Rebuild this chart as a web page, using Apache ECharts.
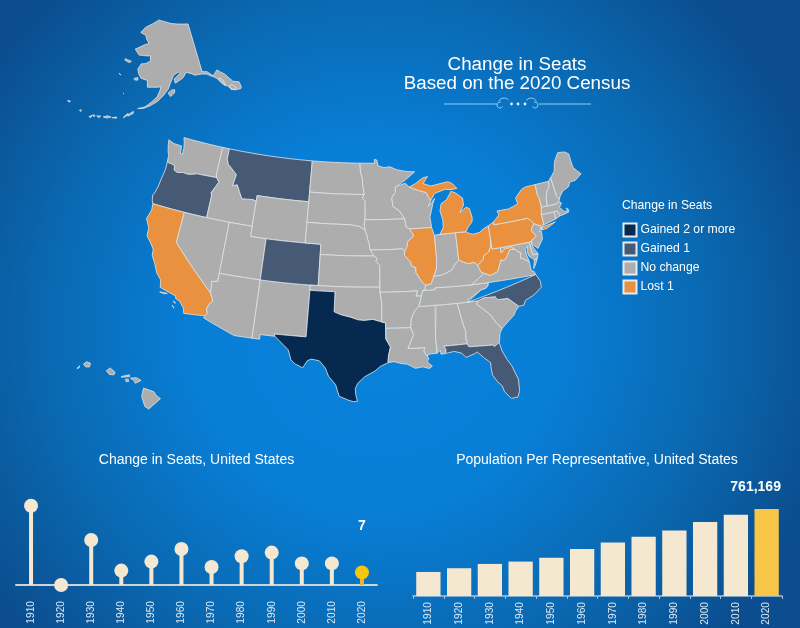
<!DOCTYPE html>
<html><head><meta charset="utf-8">
<style>html,body{margin:0;padding:0;background:#0a6ab2}#c{width:800px;height:628px}</style>
<script src="https://cdn.jsdelivr.net/npm/echarts@6/dist/echarts.min.js"></script>
</head><body><div id="c"></div>
<script>
// ---------- data ----------
const decades = ['1910','1920','1930','1940','1950','1960','1970','1980','1990','2000','2010','2020'];
const seatChanges = [44,0,25,8,13,20,10,16,18,12,12,7];
const popPerRep = [210328,243000,280675,301164,334587,410481,469088,519235,572466,646952,710767,761169];
const gainedTwo = ['Texas'];
const gainedOne = ['Oregon','Montana','Colorado','North Carolina','Florida'];
const lostOne = ['California','Illinois','Michigan','Ohio','Pennsylvania','New York','West Virginia'];
const legendNames = ['Gained 2 or more','Gained 1','No change','Lost 1'];
const legendColors = ['#06294f','#475a75','#adadad','#e9913f'];

// ---------- state outlines (lon lat), shared borders are named ----------
const col="-124 46.25,-123.4 46.2,-122.9 46.1,-122.8 45.7,-122.3 45.55,-121.5 45.7,-121 45.65,-120.5 45.7,-119.6 45.92,-119 45.93,-116.92 45.995";
const snake="-116.92 45.995,-116.47 45.6,-116.85 45,-117.2 44.4,-117.03 44.25,-117.03 42";
const idmt="-111.05 44.47,-111.5 44.55,-112.3 44.5,-113 44.45,-113.5 45.1,-113.95 45.7,-114.55 45.55,-114.35 46.65,-115.3 47.25,-115.75 47.5,-116.05 48,-116.05 49";
const redN="-96.56 45.94,-96.8 46.9,-96.85 47.5,-97.1 48,-97.23 49";
const mnsd="-96.45 43.5,-96.45 45.3,-96.85 45.6,-96.56 45.94";
const sdia="-96.45 42.49,-96.55 43,-96.45 43.5";
const sdne="-104.05 43,-98.5 43,-97.2 42.85,-96.45 42.49";
const monei="-96.45 42.49,-96.2 42,-96.1 41.6,-95.9 41.2,-95.85 40.7,-95.77 40.58";
const red="-100 34.56,-99.2 34.3,-98.1 34.1,-97.2 33.85,-96.5 33.8,-95.5 33.9,-94.48 33.64";
const sab="-94.04 33.02,-94.04 32,-93.55 31.2,-93.8 30.3,-93.85 29.7";
const mnwi="-92.05 46.7,-92.3 46.65,-92.3 46.1,-92.85 45.6,-92.75 45,-92.75 44.75,-91.9 44.3,-91.22 43.5";
const iawi="-91.22 43.5,-91.1 42.7,-90.65 42.5";
const iail="-90.65 42.5,-90.15 41.8,-91 41.3,-91.1 40.8,-91.42 40.38";
const moil="-91.42 40.38,-91.5 40,-90.75 39.3,-90.7 38.95,-90.15 38.75,-90.2 38.3,-89.5 37.3,-89.15 37";
const msar="-90.1 35,-90.6 34.6,-91.05 33.9,-91.17 33";
const wimi="-90.4 46.55,-89.1 46.15,-88.1 45.9,-87.8 45.35,-87.6 45.1";
const oh1="-80.52 40.64,-80.65 40,-81 39.5,-81.7 39.2,-81.75 38.95,-82.2 38.6,-82.6 38.42";
const oh2="-82.6 38.42,-83 38.72,-83.7 38.65,-84.25 38.85,-84.81 39.1";
const oh3="-84.81 39.1,-85.4 38.7,-85.8 38.25,-86.5 38,-87.1 37.85,-88.05 37.8";
const nctn="-81.68 36.59,-81.7 36.35,-82 36.1,-82.6 36,-83.1 35.75,-84.3 35.2,-84.32 34.99";
const ncsc="-83.11 35,-82.4 35.2,-81.05 35.15,-81.05 35.05,-80.8 34.82,-79.67 34.8,-78.55 33.86";
const gasc="-83.11 35,-83.35 34.7,-82.75 34.2,-81.95 33.5,-81.4 32.6,-80.87 32.03";
const alga="-85.6 35,-85.18 32.87,-85 32.3,-85.05 31.55,-85 31";
const almi="-88.2 35,-88.1 34.9,-88.45 31.9,-88.4 30.37";
const alfl="-85 31,-87.6 31,-87.4 30.65,-87.5 30.28";
const gafl="-85 31,-84.86 30.7,-82.2 30.57,-82.05 30.4,-81.45 30.72";
const dela="-74.7 41.36,-75.13 40.98,-75.2 40.68,-74.75 40.2,-75.45 39.82";
const pot="-79.48 39.2,-78.8 39.6,-78.45 39.55,-78.2 39.65,-77.72 39.32";
const potS="-77.72 39.32,-77.5 39.1,-77.05 38.85,-77.3 38.4,-77 38.3,-76.3 37.9";
const vawv="-77.72 39.32,-78.35 39.4,-78.87 38.77,-79.3 38.42,-79.65 38.58,-80.3 37.5,-81.25 37.25,-81.97 37.54";
const vtnh="-71.5 45.01,-71.6 44.5,-72.05 44.1,-72.4 43.4,-72.45 42.73";
const nyvt="-73.34 45.01,-73.4 44,-73.25 43.6,-73.27 42.75";
const nhma="-72.45 42.73,-71.3 42.7,-70.85 42.87";
const nhme="-71.08 45.3,-70.98 43.4,-70.72 43.07,-70.85 42.87";

const rev = s => s.split(',').reverse().join(',');
const ring = (...parts) => parts.join(',');

const stateRings = {
 'Washington':[ring("-124.73 48.38,-123.9 48.17,-123.1 48.15,-122.75 48.15,-122.6 47.4,-122.3 47.4,-122.35 48,-122.5 48.5,-122.76 49,-117.04 49,-117.04 46.4",rev(col),"-124.1 46.9,-124.35 47.3,-124.6 47.9")],
 'Oregon':[ring(col,snake,"-120 42,-124.2 42,-124.4 42.3,-124.55 42.84,-124.4 43,-124.2 43.7,-124.1 44.6,-123.95 45.5")],
 'Idaho':[ring("-117.04 49",rev(idmt),"-111.05 42,-114.04 42",rev(snake),"-117.04 46.4")],
 'Montana':[ring("-104.05 49,-104.05 45,-111.05 45",idmt)],
 'Wyoming':["-111.05 45,-104.05 45,-104.05 41,-111.05 41"],
 'Nevada':["-120 42,-114.04 42,-114.04 36.2,-114.74 36.1,-114.65 35.6,-114.63 35,-120 39"],
 'Utah':["-114.04 42,-111.05 42,-111.05 41,-109.05 41,-109.05 37,-114.04 37"],
 'California':["-124.2 42,-120 42,-120 39,-114.63 35,-114.43 34.7,-114.15 34.27,-114.5 33.9,-114.7 33.4,-114.5 33,-114.72 32.72,-117.12 32.53,-117.3 33,-117.9 33.6,-118.4 33.75,-118.5 34,-119.2 34.15,-120.47 34.45,-120.65 35.15,-121.3 35.7,-121.9 36.6,-122.4 37.2,-122.5 37.8,-123 38.3,-123.7 38.9,-123.8 39.7,-124.4 40.44,-124.1 41.4",
   "-120.4 34.02,-119.5 34.05,-119.9 33.93","-118.6 33.48,-118.3 33.33,-118.45 33.33","-118.6 33.03,-118.35 32.82,-118.45 32.82"],
 'Arizona':["-114.04 37,-109.05 37,-109.05 31.33,-111.07 31.33,-114.81 32.5,-114.72 32.72,-114.5 33,-114.7 33.4,-114.5 33.9,-114.15 34.27,-114.43 34.7,-114.63 35,-114.65 35.6,-114.74 36.1,-114.04 36.2"],
 'New Mexico':["-109.05 37,-103 37,-103 36.5,-103.04 32,-106.62 32,-106.53 31.78,-108.2 31.78,-108.2 31.33,-109.05 31.33"],
 'Colorado':["-109.05 41,-102.05 41,-102.05 37,-109.05 37"],
 'North Dakota':[ring("-104.05 49",rev(redN),"-104.05 45.94")],
 'South Dakota':[ring("-104.05 45.94",rev(mnsd),rev(sdia),rev(sdne),"-104.05 45")],
 'Nebraska':[ring(sdne,monei,"-95.31 40,-102.05 40,-102.05 41,-104.05 41")],
 'Kansas':["-102.05 40,-95.31 40,-94.9 39.75,-95.1 39.5,-94.61 39.1,-94.62 37,-102.05 37"],
 'Oklahoma':[ring("-103 37,-94.62 37,-94.62 36.5,-94.43 35.4",rev(red),"-100 36.5,-103 36.5")],
 'Texas':[ring("-103 36.5,-100 36.5",red,"-94.04 33.55",sab,"-94.7 29.35,-95.3 28.9,-96.4 28.35,-97.15 27.7,-97.4 27.2,-97.35 26.6,-97.15 25.95,-97.6 25.9,-98.2 26.07,-99.1 26.4,-99.5 27.5,-100.3 28.3,-100.7 29.1,-101.4 29.77,-102.3 29.88,-102.7 29.7,-103.15 28.98,-104 29.3,-104.5 29.65,-104.9 30.6,-106 31.4,-106.53 31.78,-106.62 32,-103.04 32")],
 'Minnesota':[ring(redN.split(',').pop(),"-95.15 49,-95.15 49.38,-94.8 49.3,-94.64 48.74,-93.8 48.55,-92.95 48.62,-92 48.3,-90.75 48.1,-89.5 48,-90.8 47.3",mnwi,mnsd,redN)],
 'Iowa':[ring("-96.45 43.5",iawi,iail,"-91.73 40.61",rev(monei),"-96.55 43")],
 'Missouri':[ring("-95.77 40.58,-91.73 40.61",moil,"-89.2 36.6,-89.5 36.5,-89.7 36,-90.37 36,-90.15 36.5,-94.62 36.5,-94.62 37,-94.61 39.1,-95.1 39.5,-94.9 39.75,-95.31 40")],
 'Arkansas':[ring("-94.62 36.5,-90.15 36.5,-90.37 36,-89.7 36",msar,"-94.04 33.02,-94.04 33.55,-94.48 33.64,-94.43 35.4")],
 'Louisiana':[ring("-94.04 33.02,-91.17 33,-90.9 32.3,-91.6 31,-89.73 31,-89.85 30.67,-89.55 30.18,-89.4 30,-89.4 29.8,-89.6 29.65,-89.05 29.15,-89.4 28.95,-90.1 29.15,-90.9 29.05,-91.8 29.5,-92.3 29.55,-93.2 29.78",rev(sab))],
 'Mississippi':[ring("-90.1 35",almi,"-89.2 30.35,-89.55 30.18,-89.85 30.67,-89.73 31,-91.6 31,-90.9 32.3",rev(msar))],
 'Alabama':[ring(almi.split(',')[0],"-85.6 35",alga,alfl,"-88 30.25,-88.05 30.65",rev(almi).split(',').slice(0,-1).join(','))],
 'Georgia':[ring("-85.6 35,-84.32 34.99",gasc,"-81.2 31.6,-81.3 31.2",rev(gafl),rev(alga))],
 'Florida':[ring(rev(alfl),gafl,"-81.3 29.9,-80.9 29,-80.5 28.3,-80.05 26.9,-80.12 25.8,-80.4 25.2,-81.1 25.15,-81.7 25.9,-81.85 26.5,-82.3 27,-82.7 27.7,-82.75 28.5,-82.7 28.9,-83.4 29.5,-84 30.1,-84.35 29.95,-85.3 29.7,-85.7 30.15,-86.5 30.4")],
 'South Carolina':[ring(ncsc,"-79 33.5,-79.3 33.1,-79.9 32.7,-80.5 32.3",rev(gasc))],
 'North Carolina':[ring("-84.32 34.99",ncsc,"-77.95 33.88,-77.7 34.3,-76.6 34.65,-75.55 35.25,-75.5 35.8,-75.87 36.55",rev(nctn))],
 'Tennessee':[ring("-89.5 36.5,-88.07 36.5,-88.07 36.68,-83.68 36.6",nctn,"-88.2 35,-90.1 35,-89.7 36")],
 'Kentucky':[ring(oh2,oh3,"-88.45 37.1,-89.15 37,-89.2 36.6,-89.5 36.5,-88.07 36.5,-88.07 36.68,-83.68 36.6,-82.9 37,-81.97 37.54,-82.3 37.7")],
 'Virginia':[ring("-83.68 36.6,-81.68 36.59,-75.87 36.55,-76 36.9,-76.3 37,-76.3 37.55",rev(potS),vawv,"-82.9 37"),"-75.95 37.15,-75.6 37.55,-75.25 38.03,-75.65 37.95"],
 'West Virginia':[ring("-82.6 38.42,-82.3 37.7",rev(vawv),rev(pot),"-79.48 39.72,-80.52 39.72",oh1)],
 'Maryland':[ring("-79.48 39.72,-75.79 39.72,-75.7 38.46,-75.05 38.45,-75.25 38.03,-75.65 37.95,-76.2 38.4,-76.3 38.9,-76.05 39.4,-76.5 39.1,-76.45 38.5,-76.32 38.05",rev(potS),rev(pot))],
 'Delaware':["-75.79 39.72,-75.45 39.82,-75.55 39.5,-75.4 39.05,-75.05 38.45,-75.7 38.46"],
 'Pennsylvania':[ring("-80.52 41.98,-80.08 42.15,-79.76 42.27,-79.76 42,-75.35 42,-75.05 41.75",dela,"-75.79 39.72,-80.52 39.72")],
 'New Jersey':[ring(dela,"-75.5 39.5,-74.9 38.95,-74.1 39.75,-74 40.45,-74.25 40.5,-74 40.7,-73.9 41")],
 'New York':[ring("-79.76 42.27,-78.9 42.85,-79.05 43.26,-77.5 43.25,-76.2 43.55,-76.3 44.15,-75.3 44.85,-74.7 45",nyvt,"-73.5 42.05,-73.49 41.2,-73.7 41,-74 40.7,-73.9 41,-74.7 41.36,-75.05 41.75,-75.35 42,-79.76 42"),"-74 40.6,-73.2 40.65,-72 41.05,-72.6 40.98,-73.7 40.87"],
 'Connecticut':["-73.5 42.05,-71.8 42.02,-71.85 41.32,-73.65 41,-73.49 41.2"],
 'Rhode Island':["-71.8 42.02,-71.38 42.02,-71.2 41.5,-71.85 41.32"],
 'Massachusetts':[ring("-73.27 42.75",nhma,"-70.6 42.65,-71 42.3,-70.55 41.8,-70.1 41.78,-70.2 42.07,-69.95 41.9,-70 41.65,-70.65 41.55,-71.2 41.5,-71.38 42.02,-71.8 42.02,-73.5 42.05")],
 'Vermont':[ring(vtnh,rev(nyvt))],
 'New Hampshire':[ring("-71.5 45.01",nhme,rev(nhma),rev(vtnh).split(',').slice(0,-1).join(','))],
 'Maine':[ring("-71.08 45.3,-70.4 45.8,-70 46.7,-69.22 47.46,-68.3 47.35,-67.8 47.07,-67.8 45.7,-67.45 45.3,-67 44.85,-68 44.4,-68.8 44.4,-69.1 44,-70 43.75,-70.55 43.3,-70.72 43.07,-70.98 43.4")],
 'Wisconsin':[ring("-92.05 46.7,-90.9 46.95",wimi,"-88 44.55,-87.5 44.9,-87.05 45.25,-87.35 44.8,-87.55 44.3,-87.9 43.5,-87.8 42.49",rev(iawi),rev(mnwi))],
 'Illinois':[ring("-90.65 42.5,-87.8 42.49,-87.53 41.7,-87.53 39.35,-87.65 38.5,-88.05 37.8,-88.45 37.1",rev(moil),rev(iail))],
 'Indiana':[ring("-87.53 41.7,-87.2 41.75,-86.8 41.76,-84.81 41.76",oh3,"-87.65 38.5,-87.53 39.35")],
 'Ohio':[ring("-84.81 41.76,-83.45 41.73,-83 41.5,-82.5 41.4,-81.7 41.5,-81.2 41.77,-80.52 41.98",oh1,oh2)],
 'Michigan':["-86.8 41.76,-84.81 41.76,-83.45 41.73,-83.15 42.1,-82.5 42.6,-82.4 43,-82.6 43.9,-83 44.07,-83.9 43.65,-83.3 44.3,-83.3 45,-84.2 45.6,-84.75 45.78,-85.1 45.4,-85.5 45,-86.25 44.7,-86.5 44,-86.25 43.1,-86.3 42.4",
   ring("-90.4 46.55,-89.5 46.85,-88.45 47.35,-87.75 47.45,-88.45 46.8,-87.4 46.5,-86.1 46.65,-85 46.75,-84.4 46.5,-84.1 46.2,-83.9 46,-84.75 45.95,-85.5 46.05,-86.5 45.85,-87 45.75",rev(wimi))],
 'Alaska':["-141 69.65,-145 70,-150 70.45,-153 70.9,-156.5 71.35,-159 70.85,-162 70.3,-164 69.9,-166.2 68.88,-163.5 68.4,-163 67.7,-161.8 66.9,-164 66.6,-168 65.65,-166 64.6,-162 64.55,-161 64.6,-161 63.6,-163 63.1,-164.8 63,-166 62,-165.5 61.1,-164.5 60.3,-162 59.95,-162 58.7,-160 58.7,-158 58.7,-157 58.8,-157.5 58,-158.5 56.9,-160.5 55.9,-162.5 55,-164.9 54.6,-163 54.7,-161 55.2,-158.5 56,-156.5 57,-154.5 58.2,-153.5 59.3,-152 60.7,-150 61.2,-149.5 60.9,-151.9 60,-151.7 59.2,-150 59.6,-148.5 60,-147 60.9,-145 60.4,-144 60,-141.5 59.9,-139.6 59.6,-137.5 58.7,-136.2 58,-135 57,-133.8 55.9,-132.5 55,-130.5 54.7,-130 55,-130 56,-131.8 56.6,-133.4 58.4,-135.5 59.7,-137.5 58.9,-139.2 60,-141 60.3",
   "-135.5 57,-134.7 56.3,-134.7 57.4,-135.8 58.2,-136.3 57.9","-133.5 55.3,-132 55,-131.7 55.3,-132.5 56.1,-133.5 56.1",
   "-154.6 57.5,-153.3 58,-152.2 58,-152.4 57.4,-153.9 56.8","-167 60.2,-165.7 60.4,-165.7 59.9,-167 59.9","-171.7 63.6,-169 63.3,-168.8 63.2,-170 63,-171.7 63.3",
   "-167.8 53.3,-166.2 54,-166.2 53.6,-167.8 53","-169 52.8,-167.9 53.5,-167.9 53.2,-169 52.6","-172.6 52.25,-171.2 52.55,-171.2 52.3","-175.2 52.05,-174 52.45,-172.9 52.35,-174 52","-177.2 51.95,-176 52.1,-176.5 51.7","-178.4 51.95,-177.7 51.95,-177.9 51.65","-179.4 51.4,-178.5 51.85,-178.8 51.35","-182.7 52,-182.2 52.2,-182.2 51.85","-187.2 52.9,-186.3 53,-186.5 52.7","-173 60.7,-172.3 60.4,-172.6 60.3","-170.4 57.2,-170.1 57.25,-170.1 57.1"],
 'Hawaii':["-155.88 20.26,-155.2 19.97,-155.07 19.73,-154.8 19.5,-155.65 18.92,-155.9 19.1,-156.05 19.75","-156.7 20.95,-156.3 20.95,-156 20.75,-156.4 20.6,-156.5 20.8","-157.3 21.1,-156.75 21.17,-156.75 21.05,-157.3 21.06","-157.05 20.9,-156.85 20.9,-156.85 20.75,-157 20.75","-158.28 21.55,-158 21.7,-157.7 21.4,-157.8 21.25,-158.1 21.3","-159.78 22.1,-159.55 22.22,-159.3 22.1,-159.4 21.88,-159.65 21.9","-160.25 21.85,-160.05 22,-160.1 21.88"]
};

// densify long straight edges so parallels curve as the projection implies
function toCoords(str){
  const pts=str.split(',').map(p=>p.trim().split(/\s+/).map(Number));
  const out=[];
  pts.concat([pts[0]]).forEach((p,i,a)=>{
    if(i){const q=a[i-1],n=Math.ceil(Math.abs(p[0]-q[0]));
      for(let k=1;k<n;k++)out.push([q[0]+(p[0]-q[0])*k/n,q[1]+(p[1]-q[1])*k/n]);}
    out.push(p);
  });
  return [out];
}
const usGeo={type:'FeatureCollection',features:Object.keys(stateRings).map(name=>({
  type:'Feature',properties:{name},
  geometry:{type:'MultiPolygon',coordinates:stateRings[name].map(toCoords)}}))};
echarts.registerMap('usStates',usGeo);

// ---------- projection: Albers conic, with inset placement for AK and HI ----------
const rad=Math.PI/180;
function conic(p1,p2,lat0){
  const n=(Math.sin(p1*rad)+Math.sin(p2*rad))/2,C=Math.cos(p1*rad)**2+2*n*Math.sin(p1*rad);
  const r=lat=>Math.sqrt(C-2*n*Math.sin(lat*rad))/n;
  return {n,r,r0:r(lat0)};
}
const lower=conic(29.5,45.5,37.5), ak=conic(55,65,0);
const SCALE_X=602.7,SCALE_Y=590,OX=368.5,OY=282, AK_S=305,AK_X=152.8,AK_Y=-95.8;
const HI_S=15.9,HI_ROT=-5*rad;
function project(c){
  const lon=c[0],lat=c[1];
  if(lat<23&&lon<-150){
    const dx=(lon+155.5)*0.93*HI_S,dy=-(lat-19.6)*HI_S;
    return [150+dx*Math.cos(HI_ROT)-dy*Math.sin(HI_ROT),398+dx*Math.sin(HI_ROT)+dy*Math.cos(HI_ROT)];
  }
  if(lat>50&&lon<-129){
    const a=ak.n*(lon+160)*rad,r=ak.r(lat);
    return [AK_X+AK_S*r*Math.sin(a),AK_Y+AK_S*r*Math.cos(a)];
  }
  const a=lower.n*(lon+96)*rad,r=lower.r(lat);
  return [OX+SCALE_X*r*Math.sin(a),OY-SCALE_Y*(lower.r0-r*Math.cos(a))];
}
const projection={project,unproject:p=>p};
let box=[1e9,1e9,-1e9,-1e9];
usGeo.features.forEach(f=>f.geometry.coordinates.forEach(poly=>poly[0].forEach(c=>{
  const p=project(c);box=[Math.min(box[0],p[0]),Math.min(box[1],p[1]),Math.max(box[2],p[0]),Math.max(box[3],p[1])];
})));

const categoryOf=name=>gainedTwo.includes(name)?0:gainedOne.includes(name)?1:lostOne.includes(name)?3:2;
const mapData=Object.keys(stateRings).map(name=>({
  name,value:[2,1,0,-1][categoryOf(name)],
  itemStyle:{areaColor:legendColors[categoryOf(name)]}
}));

const CREAM='#f5e8d0', GOLD='#f8c646', WHITE='#ffffff', FONT='"Liberation Sans",Arial,sans-serif';
const last=decades.length-1;
const lightLabel={color:'#dbe6f0',fontSize:10.2,fontFamily:FONT,rotate:90,interval:0};

const orn='#8fd0ee';
const chart=echarts.init(document.getElementById('c'),null,{renderer:'canvas'});
chart.setOption({
  animation:false,
  backgroundColor:{type:'radial',x:0.47,y:0.52,r:0.74,colorStops:[
    {offset:0,color:'#0983dc'},{offset:0.4,color:'#087ed6'},{offset:0.72,color:'#0a68b0'},{offset:1,color:'#0b4d8e'}]},
  title:[
    {text:'Change in Seats\nBased on the 2020 Census',left:517,top:55,padding:0,textAlign:'center',
     textStyle:{color:WHITE,fontSize:18.8,fontWeight:'normal',lineHeight:19,fontFamily:FONT}},
    {text:'Change in Seats, United States',left:196.5,top:453,padding:0,textAlign:'center',
     textStyle:{color:WHITE,fontSize:14,fontWeight:'normal',fontFamily:FONT}},
    {text:'Population Per Representative, United States',left:597,top:453,padding:0,textAlign:'center',
     textStyle:{color:WHITE,fontSize:14,fontWeight:'normal',fontFamily:FONT}},
    {text:'Change in Seats',left:622,top:200,padding:0,
     textStyle:{color:WHITE,fontSize:12.2,fontWeight:'normal',fontFamily:FONT}}
  ],
  legend:{orient:'vertical',left:622.5,top:222.5,padding:0,itemWidth:13,itemHeight:13,itemGap:4,icon:'rect',selectedMode:false,
    data:legendNames,textStyle:{color:WHITE,fontSize:12.2,fontFamily:FONT,padding:[0,0,0,-1]}},
  grid:[
    {left:16,width:361,top:495,height:90},
    {left:413,width:369,top:500,height:96}
  ],
  xAxis:[
    {type:'category',gridIndex:0,data:decades,axisLine:{lineStyle:{color:'#ccd4d4',width:2}},axisTick:{show:false},
     axisLabel:Object.assign({margin:16},lightLabel)},
    {type:'category',gridIndex:1,data:decades,axisLine:{lineStyle:{color:'#a9c0d6',width:1.5}},
     axisTick:{show:true,length:3,lineStyle:{color:'#a9c0d6'}},axisLabel:Object.assign({margin:6},lightLabel)}
  ],
  yAxis:[
    {type:'value',gridIndex:0,min:0,max:50,show:false},
    {type:'value',gridIndex:1,min:0,max:840000,show:false}
  ],
  graphic:[
    {type:'line',shape:{x1:444,y1:104,x2:497,y2:104},style:{stroke:orn,lineWidth:1}},
    {type:'line',shape:{x1:539,y1:104,x2:591,y2:104},style:{stroke:orn,lineWidth:1}},
    {type:'arc',shape:{cx:500,cy:105,r:3,startAngle:0.5,endAngle:5},style:{stroke:orn,fill:null,lineWidth:1}},
    {type:'arc',shape:{cx:535,cy:105,r:3,startAngle:-1.9,endAngle:2.6},style:{stroke:orn,fill:null,lineWidth:1}},
    {type:'arc',shape:{cx:504,cy:104,r:6,startAngle:3.6,endAngle:5.6},style:{stroke:orn,fill:null,lineWidth:1}},
    {type:'arc',shape:{cx:531,cy:104,r:6,startAngle:3.8,endAngle:5.8},style:{stroke:orn,fill:null,lineWidth:1}},
    {type:'circle',shape:{cx:511.5,cy:104,r:1.4},style:{fill:'#dff2fb'}},
    {type:'circle',shape:{cx:518,cy:104,r:1.4},style:{fill:'#dff2fb'}},
    {type:'circle',shape:{cx:525,cy:104,r:1.4},style:{fill:'#dff2fb'}}
  ],
  series:[
    {type:'map',map:'usStates',projection,roam:false,silent:true,showLegendSymbol:false,
     layoutCenter:[(box[0]+box[2])/2,(box[1]+box[3])/2],layoutSize:Math.max(box[2]-box[0],box[3]-box[1]),
     itemStyle:{borderColor:'#dfe6ea',borderWidth:0.8},label:{show:false},
     emphasis:{disabled:true},select:{disabled:true},data:mapData},
    {type:'bar',name:'stem',xAxisIndex:0,yAxisIndex:0,barWidth:4,silent:true,
     data:seatChanges.map((v,i)=>({value:v,itemStyle:{color:i===last?'#f2b233':CREAM}}))},
    {type:'scatter',name:'seats',xAxisIndex:0,yAxisIndex:0,symbolSize:14,silent:true,clip:false,
     data:seatChanges.map((v,i)=>({value:v,itemStyle:{color:i===last?'#f6c50e':CREAM,opacity:1},
       label:i===last?{show:true,position:'top',distance:32,formatter:'{c}',color:WHITE,fontSize:14,fontWeight:'bold',fontFamily:FONT}:{show:false}}))},
    {type:'bar',name:'population',xAxisIndex:1,yAxisIndex:1,barWidth:'79%',silent:true,
     data:popPerRep.map((v,i)=>({value:v,itemStyle:{color:i===last?GOLD:CREAM},
       label:i===last?{show:true,position:'top',distance:15,offset:[-11,0],formatter:p=>p.value.toLocaleString('en-US'),color:WHITE,fontSize:14,fontWeight:'bold',fontFamily:FONT}:{show:false}}))},
    ...legendNames.map((n,i)=>({type:'scatter',name:n,xAxisIndex:0,yAxisIndex:0,data:[],
      itemStyle:{color:legendColors[i],opacity:1,borderColor:'#e6edf2',borderWidth:1}}))
  ]
});
</script></body></html>
